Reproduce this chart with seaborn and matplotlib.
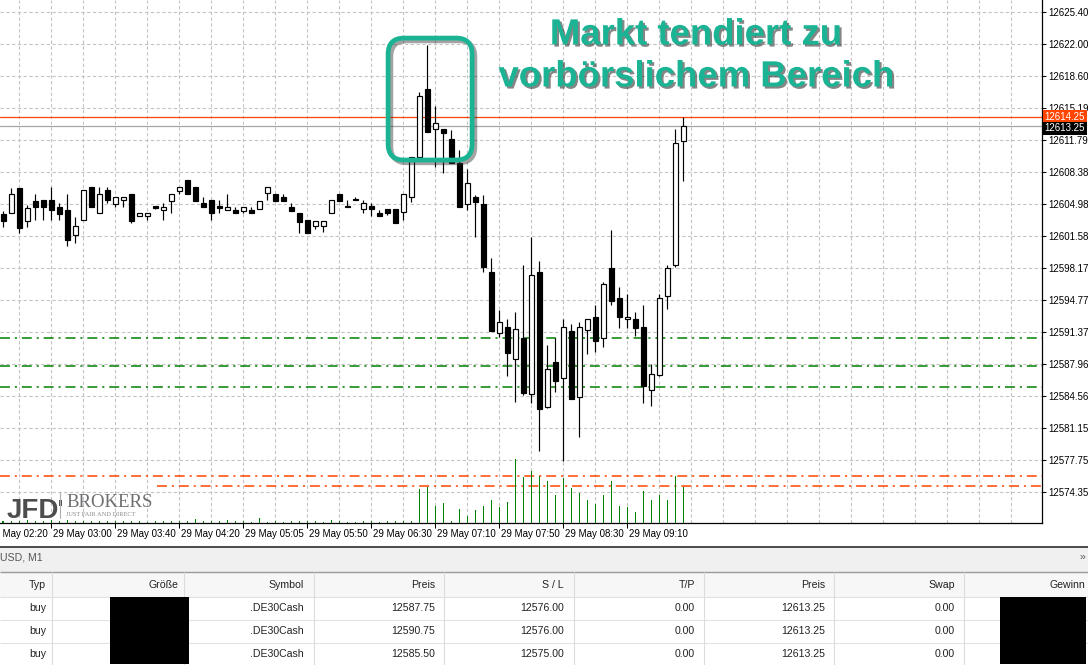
import numpy as np
import pandas as pd
import matplotlib
matplotlib.use("Agg")
import matplotlib.pyplot as plt
import seaborn as sns
from matplotlib import font_manager
from matplotlib.patches import FancyBboxPatch, Rectangle
from matplotlib.lines import Line2D
import matplotlib.patheffects as pe
import matplotlib.transforms as mtransforms

# ---------------- data ----------------
opens = [12603.88, 12603.98, 12606.64, 12603.13, 12605.26, 12605.40, 12605.40, 12604.66, 12604.34, 12601.64,
         12603.31, 12606.78, 12603.98, 12606.46, 12605.01, 12605.37, 12606.04, 12603.66, 12603.66, 12604.76,
         12604.30, 12605.33, 12606.39, 12607.53, 12606.78, 12605.08, 12605.40, 12604.76, 12604.30, 12604.34,
         12604.27, 12604.34, 12604.41, 12606.11, 12606.04, 12605.68, 12604.66, 12604.02, 12603.27, 12602.63,
         12602.63, 12603.98, 12606.04, 12604.76, 12605.54, 12604.41, 12604.76, 12604.02, 12604.41, 12604.41,
         12604.09, 12605.69, 12609.97, 12617.18, 12612.92, 12612.92, 12611.89, 12609.34, 12604.97, 12605.75,
         12604.98, 12597.71, 12591.22, 12591.89, 12588.45, 12590.69, 12584.73, 12597.71, 12583.41, 12588.17,
         12586.43, 12591.43, 12584.41, 12591.54, 12592.92, 12590.69, 12598.13, 12594.97, 12592.71, 12592.71,
         12591.86, 12585.19, 12586.78, 12595.15, 12598.49, 12611.64]
highs = [12604.23, 12606.64, 12606.64, 12604.87, 12606.04, 12605.40, 12606.78, 12605.12, 12606.04, 12603.56,
         12606.46, 12606.78, 12606.78, 12606.78, 12605.72, 12605.68, 12606.04, 12604.02, 12604.02, 12604.76,
         12605.12, 12606.04, 12606.78, 12607.53, 12606.78, 12605.72, 12605.40, 12605.40, 12606.04, 12604.66,
         12604.62, 12604.62, 12605.33, 12606.75, 12606.04, 12606.04, 12605.05, 12604.02, 12603.27, 12603.20,
         12603.20, 12605.37, 12606.04, 12605.40, 12605.76, 12605.40, 12605.12, 12604.34, 12604.41, 12604.41,
         12606.04, 12609.94, 12616.89, 12621.89, 12615.40, 12612.92, 12612.85, 12610.72, 12608.70, 12605.93,
         12605.93, 12599.20, 12593.70, 12592.71, 12593.45, 12598.49, 12601.50, 12598.94, 12589.98, 12590.69,
         12592.71, 12592.21, 12592.45, 12592.71, 12594.23, 12596.71, 12602.21, 12596.18, 12595.40, 12593.52,
         12594.23, 12587.95, 12595.40, 12598.45, 12612.92, 12614.20]
lows = [12602.56, 12603.98, 12601.85, 12602.56, 12603.27, 12603.27, 12603.27, 12603.27, 12600.54, 12600.86,
        12603.31, 12604.69, 12603.98, 12605.12, 12604.69, 12604.69, 12602.99, 12603.66, 12603.27, 12604.41,
        12603.27, 12604.05, 12606.07, 12606.07, 12605.33, 12604.69, 12603.27, 12604.05, 12604.30, 12603.98,
        12603.98, 12603.98, 12604.41, 12605.40, 12605.33, 12605.33, 12604.27, 12601.93, 12601.85, 12602.28,
        12602.00, 12603.98, 12605.33, 12604.62, 12605.40, 12603.98, 12603.70, 12603.70, 12603.77, 12602.99,
        12603.27, 12605.22, 12609.97, 12612.67, 12608.94, 12608.27, 12609.34, 12604.66, 12604.34, 12601.50,
        12597.77, 12591.50, 12590.86, 12586.71, 12583.94, 12584.66, 12583.77, 12578.73, 12583.24, 12585.01,
        12577.67, 12584.20, 12580.22, 12588.98, 12589.26, 12589.73, 12594.23, 12591.75, 12591.75, 12590.96,
        12583.77, 12583.52, 12586.71, 12593.77, 12598.24, 12607.45]
closes = [12603.20, 12606.00, 12602.46, 12604.51, 12604.69, 12604.69, 12604.34, 12603.95, 12601.15, 12602.60,
          12606.46, 12604.69, 12606.04, 12605.44, 12605.72, 12605.68, 12603.20, 12604.02, 12604.02, 12604.59,
          12604.66, 12606.04, 12606.78, 12606.07, 12605.33, 12604.69, 12603.98, 12604.59, 12604.66, 12603.98,
          12604.62, 12603.98, 12605.33, 12606.75, 12605.33, 12605.33, 12604.27, 12603.03, 12601.85, 12603.20,
          12603.20, 12605.37, 12605.33, 12604.62, 12605.40, 12605.05, 12604.41, 12603.70, 12604.05, 12602.99,
          12606.04, 12609.94, 12616.46, 12612.67, 12613.62, 12612.50, 12609.34, 12604.66, 12607.21, 12605.22,
          12598.24, 12591.50, 12592.39, 12589.16, 12591.64, 12584.90, 12597.42, 12583.20, 12587.42, 12586.18,
          12591.86, 12584.20, 12591.86, 12592.71, 12590.43, 12596.43, 12594.69, 12592.99, 12592.92, 12591.75,
          12585.65, 12586.86, 12594.94, 12598.13, 12611.43, 12613.25]
volumes = [2, 2, 2, 3, 2, 2, 3, 2, 3, 2,
           2, 2, 2, 2, 2, 2, 2, 2, 1, 2,
           2, 2, 2, 2, 4, 2, 2, 2, 3, 2,
           2, 1, 5, 1, 2, 1, 2, 2, 2, 2,
           1, 3, 2, 1, 1, 2, 2, 1, 2, 2,
           2, 2, 34, 36, 17, 20, 2, 14, 7, 13,
           17, 23, 16, 21, 64, 46, 52, 47, 42, 28,
           45, 35, 30, 23, 19, 28, 42, 17, 16, 11,
           32, 23, 28, 23, 47, 36]

time_labels = ["29 May 02:20", "29 May 03:00", "29 May 03:40", "29 May 04:20", "29 May 05:05",
               "29 May 05:50", "29 May 06:30", "29 May 07:10", "29 May 07:50", "29 May 08:30",
               "29 May 09:10"]
time_label_bars = [-2, 6, 14, 22, 30, 38, 46, 54, 62, 70, 78]
price_tick_labels = ["12625.40", "12622.00", "12618.60", "12615.19", "12611.79", "12608.38",
                     "12604.98", "12601.58", "12598.17", "12594.77", "12591.37", "12587.96",
                     "12584.56", "12581.15", "12577.75", "12574.35"]
bid_price = 12613.25
ask_price = 12614.25

table_headers = ["Typ", "Größe", "Symbol", "Preis", "S / L", "T/P", "Preis", "Swap", "Gewinn"]
trade_types = ["buy", "buy", "buy"]
trade_symbols = [".DE30Cash", ".DE30Cash", ".DE30Cash"]
open_prices = [12587.75, 12590.75, 12585.50]
stop_losses = [12576.00, 12576.00, 12575.00]
take_profits = [0.00, 0.00, 0.00]
current_prices = [12613.25, 12613.25, 12613.25]
swaps = [0.00, 0.00, 0.00]
window_title = "USD, M1"
annotation_lines = ["Markt tendiert zu", "vorbörslichem Bereich"]

# ---------------- style ----------------
sns.set_theme(style="white")
names = {f.name for f in font_manager.fontManager.ttflist}
if "Liberation Sans Narrow" in names:
    UI, UI_SIZE = "Liberation Sans Narrow", 8.0
else:
    UI, UI_SIZE = "Liberation Sans", 7.0
TAB_SIZE = UI_SIZE * 1.08
plt.rcParams["font.family"] = [UI, "DejaVu Sans"]

W, H, DPI = 1088, 665, 100
fig = plt.figure(figsize=(W / DPI, H / DPI), dpi=DPI, facecolor="white")


def fx(px):
    return px / W


def fy(py):
    return 1 - py / H


CHART_R, CHART_B = 1042, 523
ax = fig.add_axes([0, fy(CHART_B), CHART_R / W, CHART_B / H])
ax.set_facecolor("white")

idx = np.arange(len(opens))
o, h, l, c = map(np.asarray, (opens, highs, lows, closes))
up = c >= o

# grid
price_ticks = [float(s) for s in price_tick_labels]
grid_kw = dict(color="#c4c4c4", lw=0.8, dashes=(3.0, 2.2), zorder=1)
for v in price_ticks:
    ax.axhline(v, **grid_kw)
for gx in np.arange(2, 130, 4):
    ax.axvline(gx, **grid_kw)

# trade level lines
for p in sorted(set(open_prices)):
    ax.axhline(p, color="#008000", lw=1.1, dashes=(6.5, 3.2, 1.4, 3.2), zorder=2)
sl_levels = sorted(set(stop_losses), reverse=True)
ax.axhline(sl_levels[0], color="#ff4500", lw=1.1, dashes=(6.5, 3.2, 1.4, 3.2), zorder=2)
ax.axhline(sl_levels[1], xmin=0.151, color="#ff4500", lw=1.1, dashes=(6.5, 3.2, 1.4, 3.2), zorder=2)

# bid / ask lines
ax.axhline(bid_price, color="#a6a6a6", lw=0.9, zorder=2)
ax.axhline(ask_price, color="#ff4500", lw=0.9, zorder=2)

# candles
ax.vlines(idx, l, h, color="black", lw=0.85, zorder=3)
ax.bar(idx, np.abs(c - o), bottom=np.minimum(o, c), width=0.56,
       color=np.where(up, "white", "black"), edgecolor="black", linewidth=0.85, zorder=4)

# volumes (seaborn) on a twin axis
ax2 = ax.twinx()
vol_df = pd.DataFrame({"bar": idx, "volume": volumes})
sns.barplot(data=vol_df, x="bar", y="volume", native_scale=True, width=0.2, color="#008000",
            saturation=1, linewidth=0, errorbar=None, ax=ax2)
ax2.set_ylim(0, 523)
ax2.axis("off")

ax.set_xlim(-3.3 / 8, (CHART_R - 3.3) / 8)
ax.set_ylim(12571.05, 12626.68)

# axes / spines
for s in ("left", "top"):
    ax.spines[s].set_visible(False)
for s in ("right", "bottom"):
    ax.spines[s].set_visible(True)
    ax.spines[s].set_color("black")
    ax.spines[s].set_linewidth(0.9)
ax.yaxis.tick_right()
ax.set_yticks(price_ticks)
ax.set_yticklabels(price_tick_labels)
ax.tick_params(axis="y", which="major", direction="out", length=3, width=0.75, pad=1.5,
               labelsize=UI_SIZE, right=True, left=False, colors="black")
ax.set_xticks(time_label_bars[1:])
ax.set_xticklabels([])
ax.tick_params(axis="x", which="major", direction="out", length=3.5, width=0.75, bottom=True,
               colors="black")
ax.set_xlabel("")
ax.set_ylabel("")

# time labels
ttrans = mtransforms.blended_transform_factory(ax.transData, ax.transAxes) + \
    mtransforms.ScaledTranslation(0.02, -0.11, fig.dpi_scale_trans)
for b, lab in zip(time_label_bars, time_labels):
    ax.text(b, 0, lab, transform=ttrans, ha="left", va="center", fontsize=UI_SIZE,
            color="black", clip_on=False)

# price tags
tagtrans = mtransforms.blended_transform_factory(ax.transAxes, ax.transData)
ax.text(1.0, ask_price, f"{ask_price:.2f}",
        transform=tagtrans + mtransforms.ScaledTranslation(0.025, 0.0, fig.dpi_scale_trans),
        color="white", ha="left", va="center", fontsize=UI_SIZE, clip_on=False, zorder=10,
        bbox=dict(boxstyle="square,pad=0.18", fc="#ff4500", ec="none"))
ax.text(1.0, bid_price, f"{bid_price:.2f}",
        transform=tagtrans + mtransforms.ScaledTranslation(0.025, -0.02, fig.dpi_scale_trans),
        color="white", ha="left", va="center", fontsize=UI_SIZE, clip_on=False, zorder=10,
        bbox=dict(boxstyle="square,pad=0.18", fc="black", ec="none"))

# teal highlight box
TEAL = "#1ab394"
box = FancyBboxPatch((48.1, 12609.66), 10.5, 12.97,
                     boxstyle="round,pad=0,rounding_size=2.0", mutation_aspect=0.85,
                     fill=False, ec=TEAL, lw=3.4, zorder=8, clip_on=False,
                     path_effects=[pe.SimpleLineShadow(offset=(2, -2), shadow_color="#333333",
                                                       alpha=0.45), pe.Normal()])
ax.add_patch(box)

for line, py in zip(annotation_lines, [35, 77]):
    fig.text(fx(696), fy(py), line, ha="center", va="center", color=TEAL, fontsize=26.3,
             fontweight="bold", family=["Liberation Sans", "DejaVu Sans"],
             path_effects=[pe.SimplePatchShadow(offset=(1.5, -1.5), shadow_rgbFace="#222222",
                                                alpha=0.55), pe.Normal()])

# JFD logo
fig.text(fx(7), fy(518), "JFD", ha="left", va="baseline", fontsize=20, fontweight="bold",
         color="#4d4d4f", family=[UI, "DejaVu Sans"])
fig.add_artist(Line2D([fx(60), fx(60)], [fy(492), fy(518)], color="#b0b0b0", lw=0.8))
fig.add_artist(Rectangle((fx(59), fy(506)), fx(2.5), 6 / H, color="#4d4d4f", lw=0))
fig.text(fx(66), fy(507), "BROKERS", ha="left", va="baseline", fontsize=13.5,
         color="#6d6e71", family=["Liberation Serif", "DejaVu Serif"])
fig.text(fx(66), fy(516), "JUST FAIR AND DIRECT", ha="left", va="baseline", fontsize=4.6,
         color="#8a8a8a", family=["Liberation Serif", "DejaVu Serif"])

# ---------------- bottom terminal panel / table ----------------
tab = fig.add_axes([0, 0, 1, (H - 545) / H])
tab.set_xlim(0, W)
tab.set_ylim(H, 545)
tab.axis("off")

tab.add_patch(Rectangle((0, 547.5), W, 24, fc="#f0f0f0", ec="none"))
tab.hlines(547, 0, W, color="#2b2b2b", lw=1.2)
tab.text(0, 558, window_title, ha="left", va="center", fontsize=TAB_SIZE, color="#555555")
tab.text(1083, 557, "»", ha="center", va="center", fontsize=TAB_SIZE, color="#555555")
tab.add_patch(Rectangle((0, 572), W, 25, fc="#f7f7f7", ec="none"))
tab.hlines(572, 0, W, color="#9a9a9a", lw=1.0)
for yy in (597, 620, 643):
    tab.hlines(yy, 0, W, color="#e2e2e2", lw=0.8)
col_right = [46, 178, 304, 435, 564, 695, 825, 955, 1085]
col_sep = [52, 184, 314, 444, 574, 704, 834, 964]
for xs in col_sep:
    tab.vlines(xs, 572, H, color="#dcdcdc", lw=0.8)

for xr, hd in zip(col_right, table_headers):
    tab.text(xr, 585, hd, ha="right", va="center", fontsize=TAB_SIZE, color="#222222")

row_y = [608, 631, 654]
for r, yy in enumerate(row_y):
    vals = [trade_types[r], None, trade_symbols[r], f"{open_prices[r]:.2f}",
            f"{stop_losses[r]:.2f}", f"{take_profits[r]:.2f}", f"{current_prices[r]:.2f}",
            f"{swaps[r]:.2f}", None]
    for xr, v in zip(col_right, vals):
        if v is not None:
            tab.text(xr, yy, v, ha="right", va="center", fontsize=TAB_SIZE, color="#222222")

# redaction boxes
tab.add_patch(Rectangle((110, 597), 79, 67, fc="black", ec="none", zorder=5))
tab.add_patch(Rectangle((1000, 597), 86, 67, fc="black", ec="none", zorder=5))

fig.savefig("out.png", dpi=DPI, facecolor="white")
